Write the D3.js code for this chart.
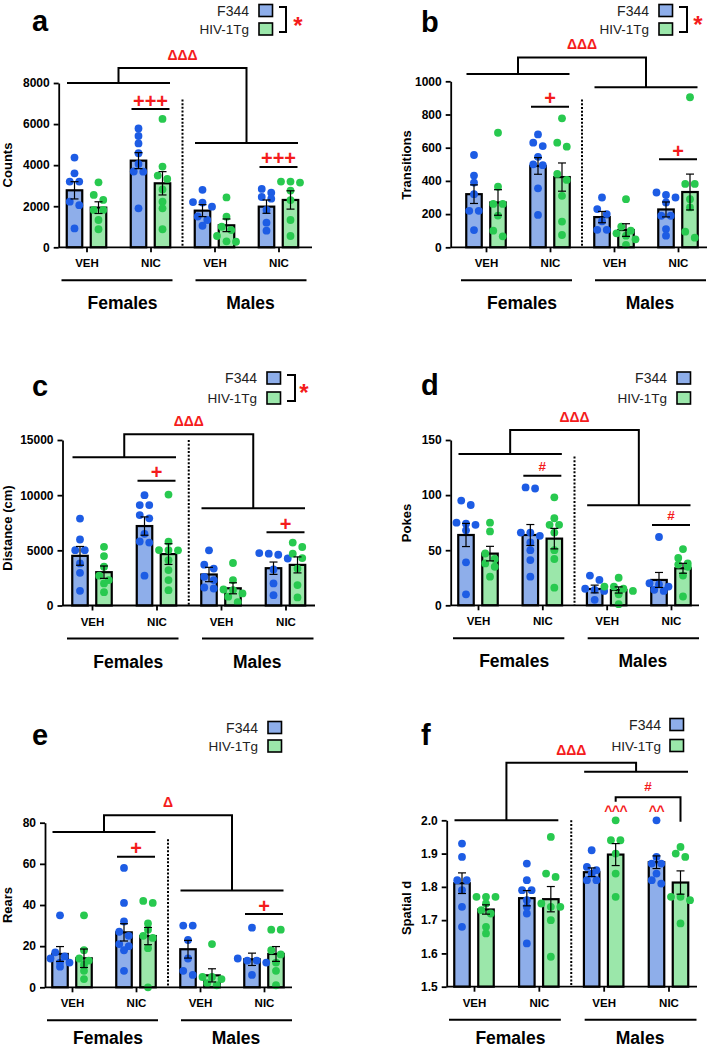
<!DOCTYPE html>
<html><head><meta charset="utf-8">
<script src="https://cdn.jsdelivr.net/npm/d3@7"></script>
<style>body{margin:0;background:#fff}svg{display:block}</style>
</head><body><svg id="chart" width="708" height="1050"></svg>
<script>
// ---------------- DATA ----------------
const groups = ["F-VEH", "F-NIC", "M-VEH", "M-NIC"];
const groupLabels = ["VEH", "NIC", "VEH", "NIC"];
const sexes = ["Females", "Males"];
const strains = ["F344", "HIV-1Tg"];

// (a) Counts
const countsTicks = [0, 2000, 4000, 6000, 8000];
const countsF344Mean = [2775, 4220, 1785, 1980];
const countsF344Sem = [420, 390, 292, 325];
const countsHivMean = [1931, 3116, 1071, 2305];
const countsHivSem = [285, 568, 308, 446];
const countsF344Dots = [
  [4370, 3600, 3200, 3200, 2220, 2050, 920],
  [5790, 5420, 5060, 4580, 4060, 3690, 3680, 1900],
  [2800, 2200, 2180, 1980, 1500, 1330, 1050],
  [2840, 2660, 2450, 2370, 1820, 1200, 810]];
const countsHivDots = [
  [3165, 2550, 2305, 1820, 1820, 1330, 880],
  [6250, 3930, 3490, 3330, 2820, 2220, 1900, 880],
  [2430, 1490, 1000, 840, 550, 290, 270],
  [3200, 3200, 3150, 2760, 2300, 1330, 550]];
const countsSexSig = [8000, 5080, 8730];     // females, males, top
const countsNicSig = [6730, 3910];

// (b) Transitions
const transTicks = [0, 200, 400, 600, 800, 1000];
const transF344Mean = [320, 490, 182, 228];
const transF344Sem = [56, 50, 34, 45];
const transHivMean = [270, 423, 104, 333];
const transHivSem = [77, 85, 38, 108];
const transF344Dots = [
  [556, 432, 390, 320, 220, 220, 104],
  [680, 630, 610, 545, 500, 495, 355, 195],
  [300, 230, 200, 157, 105, 105],
  [330, 315, 300, 270, 190, 190, 110, 70]];
const transHivDots = [
  [690, 365, 261, 261, 191, 100, 66],
  [777, 630, 606, 442, 406, 310, 155, 74],
  [290, 125, 100, 84, 70, 48, 15],
  [904, 382, 382, 290, 240, 94, 58]];
const transSexSig = [1044, 964, 1144];
const transNicSig = [847, 530];

// (c) Distance
const distTicks = [0, 5000, 10000, 15000];
const distF344Mean = [4500, 7200, 2810, 3380];
const distF344Sem = [850, 830, 650, 560];
const distHivMean = [3020, 4660, 1560, 3680];
const distHivSem = [560, 940, 500, 725];
const distF344Dots = [
  [7880, 5980, 5010, 5010, 3810, 2960, 1330],
  [10000, 9100, 9100, 8200, 7900, 6500, 5800, 5700, 2700],
  [5000, 3700, 3350, 2600, 2300, 1630, 1540],
  [4750, 4700, 4600, 4260, 3270, 2000, 940]];
const distHivDots = [
  [5320, 4480, 3510, 2700, 2300, 2000, 1210],
  [10050, 5780, 5020, 5020, 5000, 4110, 3210, 2300, 1390],
  [3850, 2300, 1450, 1400, 1090, 800, 300],
  [5700, 5300, 4700, 4300, 3350, 1850, 730]];
const distSexSig = [13430, 8810, 15520];
const distNicSig = [11310, 6630];

// (d) Pokes
const pokesTicks = [0, 50, 100, 150];
const pokesF344Mean = [63.8, 63.8, 14.8, 23];
const pokesF344Sem = [10.5, 9.5, 3.5, 6.8];
const pokesHivMean = [46.9, 60.5, 13.9, 33.6];
const pokesHivSem = [6.6, 9.3, 2.8, 4.5];
const pokesF344Dots = [
  [95, 91, 75, 74, 73, 68, 39, 10],
  [107, 106, 66, 66, 63, 57, 50, 41, 26],
  [27, 23, 15, 14, 13, 5],
  [62, 20, 19, 17, 14, 13]];
const pokesHivDots = [
  [75, 67, 47, 42, 38, 35, 26],
  [98, 79, 73, 73, 66, 50, 42, 16],
  [25, 17, 17, 15, 13, 10, 1],
  [51, 43, 38, 37, 35, 27, 8]];
const pokesSexSig = [137.3, 90.7, 159];
const pokesNicSig = [117.6, 72.9];

// (e) Rears
const rearsTicks = [0, 20, 40, 60, 80];
const rearsF344Mean = [16.2, 26.7, 18.5, 13.6];
const rearsF344Sem = [3.6, 4.2, 4.3, 3.0];
const rearsHivMean = [14.1, 24.9, 5.8, 16.2];
const rearsHivSem = [4.5, 4.2, 3.2, 3.6];
const rearsF344Dots = [
  [35, 17, 15, 14, 12, 12, 10],
  [58, 41, 32, 27, 25, 21, 20, 18, 8],
  [30, 30, 23, 14, 8, 6],
  [29, 14, 13, 13, 12, 6]];
const rearsHivDots = [
  [35, 18, 14, 13, 11, 8, 4],
  [42, 41, 31, 28, 25, 24, 19, 0],
  [21, 5, 5, 4, 2, 1],
  [28, 28, 18, 16, 12, 8, 1]];
const rearsSexSig = [75.5, 47, 83.6];
const rearsNicSig = [63.5, 35.6];

// (f) Spatial d
const spatialTicks = [1.5, 1.6, 1.7, 1.8, 1.9, 2.0];
const spatialF344Mean = [1.811, 1.766, 1.844, 1.874];
const spatialF344Sem = [0.031, 0.023, 0.013, 0.019];
const spatialHivMean = [1.732, 1.763, 1.897, 1.813];
const spatialHivSem = [0.014, 0.038, 0.033, 0.035];
const spatialF344Dots = [
  [1.93, 1.89, 1.82, 1.82, 1.79, 1.74, 1.68],
  [1.87, 1.82, 1.79, 1.79, 1.76, 1.74, 1.72, 1.63],
  [1.91, 1.86, 1.85, 1.84, 1.82, 1.82],
  [2.0, 1.89, 1.87, 1.87, 1.84, 1.82, 1.81]];
const spatialHivDots = [
  [1.77, 1.77, 1.77, 1.75, 1.73, 1.72, 1.68, 1.66],
  [1.95, 1.84, 1.83, 1.75, 1.74, 1.74, 1.70, 1.59],
  [2.0, 1.94, 1.94, 1.90, 1.84, 1.77],
  [1.92, 1.90, 1.89, 1.77, 1.77, 1.76, 1.69]];
const spatialSexSig = [2.0, 2.146, 2.173];
const spatialHashSig = [2.069, 2.056, 1.996]; // bracket level, left leg end, right leg end
const spatialCaretLevel = 2.012;

// ---------------- STYLE / LAYOUT ----------------
const FONT = '"Liberation Sans", Arial, Helvetica, sans-serif';
const BLUE_FILL = "#8eaeea", BLUE_DOT = "#1d5ce4";
const GREEN_FILL = "#9be7aa", GREEN_DOT = "#28c94f";
const RED = "#f41c1c";

const panels = [
  {letter: "a", yTitle: "Counts", ticks: countsTicks, fmt: d3.format("d"),
   f344: [countsF344Mean, countsF344Sem, countsF344Dots], hiv: [countsHivMean, countsHivSem, countsHivDots],
   sexSig: countsSexSig, nicSig: countsNicSig, topLabel: "ΔΔΔ", nicLabel: "+++", dotTop: 7200,
   L: {lx: 32, ly: 31, axisX: 58.7, axisEnd: 312, g0: 86.5, g3: 278.5, y0: 247.3, yTop: 83, tx: 7, ty: 165, sexDy: 62,
       tr: 249, bx: 259, r1: 10.5, r2: 29, bracket: [279, 286, 7, 32], star: [298, 34]}},
  {letter: "b", yTitle: "Transitions", ticks: transTicks, fmt: d3.format("d"),
   f344: [transF344Mean, transF344Sem, transF344Dots], hiv: [transHivMean, transHivSem, transHivDots],
   sexSig: transSexSig, nicSig: transNicSig, topLabel: "ΔΔΔ", nicLabel: "+", dotTop: 890,
   L: {lx: 421, ly: 32, axisX: 450.7, axisEnd: 707, g0: 486, g3: 678, y0: 247.3, yTop: 81.3, tx: 406, ty: 165, sexDy: 62,
       tr: 649, bx: 659, r1: 10.5, r2: 29, bracket: [679, 687, 7, 32], star: [698, 33]}},
  {letter: "c", yTitle: "Distance (cm)", ticks: distTicks, fmt: d3.format("d"),
   f344: [distF344Mean, distF344Sem, distF344Dots], hiv: [distHivMean, distHivSem, distHivDots],
   sexSig: distSexSig, nicSig: distNicSig, topLabel: "ΔΔΔ", nicLabel: "+", dotTop: 15000,
   L: {lx: 32, ly: 396, axisX: 62.5, axisEnd: 315, g0: 92, g3: 285.5, y0: 605.5, yTop: 440, tx: 7, ty: 528, sexDy: 62,
       tr: 257, bx: 267, r1: 378, r2: 398, bracket: [287, 295, 375, 401], star: [304, 401]}},
  {letter: "d", yTitle: "Pokes", ticks: pokesTicks, fmt: d3.format("d"),
   f344: [pokesF344Mean, pokesF344Sem, pokesF344Dots], hiv: [pokesHivMean, pokesHivSem, pokesHivDots],
   sexSig: pokesSexSig, nicSig: pokesNicSig, topLabel: "ΔΔΔ", nicLabel: "#", dotTop: 135,
   L: {lx: 421, ly: 395, axisX: 450.7, axisEnd: 699, g0: 478, g3: 671, y0: 605.3, yTop: 440, tx: 406, ty: 523, sexDy: 62,
       tr: 667, bx: 677, r1: 378, r2: 398}},
  {letter: "e", yTitle: "Rears", ticks: rearsTicks, fmt: d3.format("d"),
   f344: [rearsF344Mean, rearsF344Sem, rearsF344Dots], hiv: [rearsHivMean, rearsHivSem, rearsHivDots],
   sexSig: rearsSexSig, nicSig: rearsNicSig, topLabel: "Δ", nicLabel: "+", dotTop: 72,
   L: {lx: 32, ly: 745, axisX: 45, axisEnd: 292, g0: 72, g3: 264, y0: 987.3, yTop: 822.7, tx: 7, ty: 905, sexDy: 57,
       tr: 258, bx: 268, r1: 727.5, r2: 746}},
  {letter: "f", yTitle: "Spatial d", ticks: spatialTicks, fmt: d3.format(".1f"),
   f344: [spatialF344Mean, spatialF344Sem, spatialF344Dots], hiv: [spatialHivMean, spatialHivSem, spatialHivDots],
   sexSig: spatialSexSig, nicSig: null, topLabel: "ΔΔΔ", dotTop: 2.0, hash: spatialHashSig, caret: spatialCaretLevel,
   L: {lx: 421, ly: 745, axisX: 446.7, axisEnd: 697, g0: 474, g3: 668.5, y0: 986.7, yTop: 820.3, tx: 406, ty: 908, sexDy: 57.5,
       tr: 661, bx: 670, r1: 724.5, r2: 745.5}}
];

const svg = d3.select("#chart");

function swarm(vals, y, cx) {
  const pts = vals.map(v => ({v, y: y(v)})).sort((a, b) => a.y - b.y);
  const rows = [];
  pts.forEach(p => {
    const last = rows[rows.length - 1];
    if (last && p.y - last[0].y < 6) last.push(p); else rows.push([p]);
  });
  rows.forEach(r => r.forEach((p, i) => { p.x = cx + (i - (r.length - 1) / 2) * 9.5; }));
  return pts;
}

function drawPanel(P) {
  const L = P.L;
  const g = svg.append("g");
  const y = d3.scaleLinear().domain([P.ticks[0], P.ticks[P.ticks.length - 1]]).range([L.y0, L.yTop]);
  const x = d3.scalePoint().domain(groups).range([L.g0, L.g3]);
  const off = 12, bw = 15.5;
  const series = [
    {d: P.f344, dx: -off, fill: BLUE_FILL, dot: BLUE_DOT},
    {d: P.hiv, dx: off, fill: GREEN_FILL, dot: GREEN_DOT}];

  // bars
  series.forEach(s => {
    g.append("g").selectAll("rect").data(groups).join("rect")
      .attr("x", (k) => x(k) + s.dx - bw / 2)
      .attr("y", (k, i) => y(s.d[0][i]))
      .attr("width", bw)
      .attr("height", (k, i) => L.y0 - y(s.d[0][i]))
      .attr("fill", s.fill).attr("stroke", "#000").attr("stroke-width", 2.2);
  });
  // dots
  series.forEach(s => {
    groups.forEach((k, i) => {
      const pts = swarm(s.d[2][i], y, x(k) + s.dx);
      g.append("g").selectAll("circle").data(pts).join("circle")
        .attr("cx", p => p.x).attr("cy", p => p.y).attr("r", 3.9).attr("fill", s.dot);
    });
  });
  // error bars
  series.forEach(s => {
    groups.forEach((k, i) => {
      const cx = x(k) + s.dx, m = s.d[0][i], e = s.d[1][i];
      const eg = g.append("g").attr("stroke", "#000").attr("stroke-width", 1.2);
      eg.append("line").attr("x1", cx).attr("x2", cx).attr("y1", y(m - e)).attr("y2", y(m + e));
      eg.append("line").attr("x1", cx - 4).attr("x2", cx + 4).attr("y1", y(m - e)).attr("y2", y(m - e));
      eg.append("line").attr("x1", cx - 4).attr("x2", cx + 4).attr("y1", y(m + e)).attr("y2", y(m + e));
    });
  });

  // y axis
  g.append("g").attr("transform", `translate(${L.axisX},0)`)
    .call(d3.axisLeft(y).tickValues(P.ticks).tickFormat(P.fmt).tickSize(5).tickSizeOuter(0).tickPadding(4))
    .call(a => {
      a.select(".domain").attr("stroke-width", 1.8);
      a.selectAll(".tick line").attr("stroke-width", 1.8);
      a.selectAll(".tick text").attr("font-family", FONT).attr("font-weight", "bold").attr("font-size", 12).attr("fill", "#000");
    });
  // x axis
  g.append("line").attr("x1", L.axisX).attr("x2", L.axisEnd).attr("y1", L.y0).attr("y2", L.y0)
    .attr("stroke", "#000").attr("stroke-width", 1.8);
  g.append("g").attr("transform", `translate(0,${L.y0})`)
    .call(d3.axisBottom(x).tickFormat((d, i) => groupLabels[i]).tickSize(5).tickSizeOuter(0).tickPadding(7))
    .call(a => {
      a.select(".domain").remove();
      a.selectAll(".tick line").attr("stroke-width", 1.8);
      a.selectAll(".tick text").attr("font-family", FONT).attr("font-weight", "bold").attr("font-size", 11.5).attr("fill", "#000");
    });

  // sex underlines & labels
  const lineY = L.y0 + 33;
  const sexSpans = [[x(groups[0]) - 25, x(groups[1]) + 22], [x(groups[2]) - 19, x(groups[3]) + 28]];
  sexSpans.forEach((sp, i) => {
    g.append("line").attr("x1", sp[0]).attr("x2", sp[1]).attr("y1", lineY).attr("y2", lineY)
      .attr("stroke", "#000").attr("stroke-width", 2);
    const mid = (x(groups[2 * i]) + x(groups[2 * i + 1])) / 2 + 4;
    g.append("text").attr("x", mid).attr("y", L.y0 + L.sexDy).attr("text-anchor", "middle")
      .attr("font-family", FONT).attr("font-weight", "bold").attr("font-size", 17.5).text(sexes[i]);
  });

  // dotted separator
  const sepX = (x(groups[1]) + x(groups[2])) / 2;
  g.append("line").attr("x1", sepX).attr("x2", sepX).attr("y1", y(P.dotTop)).attr("y2", L.y0)
    .attr("stroke", "#000").attr("stroke-width", 2).attr("stroke-dasharray", "2,1.7");

  // y title
  g.append("text").attr("transform", `translate(${L.tx},${L.ty}) rotate(-90)`).attr("dy", "0.35em")
    .attr("text-anchor", "middle").attr("font-family", FONT).attr("font-weight", "bold").attr("font-size", 13)
    .text(P.yTitle);

  // panel letter
  g.append("text").attr("x", L.lx).attr("y", L.ly).attr("font-family", FONT).attr("font-weight", "bold")
    .attr("font-size", 29).text(P.letter);

  // legend
  [[L.r1, BLUE_FILL, strains[0], 14], [L.r2, GREEN_FILL, strains[1], 13.5]].forEach(r => {
    g.append("text").attr("x", L.tr).attr("y", r[0] + 5).attr("text-anchor", "end")
      .attr("font-family", FONT).attr("font-size", r[3]).attr("fill", "#222").text(r[2]);
    g.append("rect").attr("x", L.bx).attr("y", r[0] - 6).attr("width", 13.5).attr("height", 12)
      .attr("fill", r[1]).attr("stroke", "#000").attr("stroke-width", 1.6);
  });
  if (L.bracket) {
    const b = L.bracket;
    g.append("path").attr("d", `M${b[0]},${b[2]}H${b[1]}V${b[3]}H${b[0]}`).attr("fill", "none")
      .attr("stroke", "#000").attr("stroke-width", 2);
    g.append("text").attr("x", L.star[0]).attr("y", L.star[1]).attr("text-anchor", "middle")
      .attr("font-family", FONT).attr("font-weight", "bold").attr("font-size", 24).attr("fill", RED).text("*");
  }

  // significance brackets (sex x drug)
  const fx1 = x(groups[0]) - 19.5, fx2 = x(groups[1]) + 19.5;
  const mx1 = x(groups[2]) - 19.5, mx2 = x(groups[3]) + 19.5;
  const fm = (fx1 + fx2) / 2, mm = (mx1 + mx2) / 2;
  const yF = y(P.sexSig[0]), yM = y(P.sexSig[1]), yT = y(P.sexSig[2]);
  g.append("path")
    .attr("d", `M${fx1},${yF}H${fx2}M${mx1},${yM}H${mx2}M${fm},${yF}V${yT}H${mm}V${yM}`)
    .attr("fill", "none").attr("stroke", "#000").attr("stroke-width", 2);
  g.append("text").attr("x", (fm + mm) / 2).attr("y", yT - 8).attr("text-anchor", "middle")
    .attr("font-family", FONT).attr("font-weight", "bold").attr("font-size", 14).attr("fill", RED).text(P.topLabel);

  if (P.nicSig) {
    [groups[1], groups[3]].forEach((k, i) => {
      const yy = y(P.nicSig[i]);
      g.append("line").attr("x1", x(k) - 19).attr("x2", x(k) + 19).attr("y1", yy).attr("y2", yy)
        .attr("stroke", "#000").attr("stroke-width", 2);
      const isPlus = P.nicLabel[0] === "+";
      g.append("text").attr("x", x(k)).attr("y", yy - (isPlus ? 1.5 : 5)).attr("text-anchor", "middle")
        .attr("font-family", FONT).attr("font-weight", "bold").attr("font-size", isPlus ? 20 : 13.5)
        .attr("fill", RED).text(P.nicLabel);
    });
  }

  if (P.hash) {
    const xa = x(groups[2]) + off, xb = x(groups[3]) + off;
    const yb = y(P.hash[0]);
    g.append("path").attr("d", `M${xa},${y(P.hash[1])}V${yb}H${xb}V${y(P.hash[2])}`)
      .attr("fill", "none").attr("stroke", "#000").attr("stroke-width", 2);
    g.append("text").attr("x", (xa + xb) / 2).attr("y", yb - 6).attr("text-anchor", "middle")
      .attr("font-family", FONT).attr("font-weight", "bold").attr("font-size", 13.5).attr("fill", RED).text("#");
    [[x(groups[2]) + off, "^^^"], [x(groups[3]) - off, "^^"]].forEach(c => {
      g.append("text").attr("x", c[0]).attr("y", y(P.caret)).attr("text-anchor", "middle")
        .attr("font-family", FONT).attr("font-weight", "bold").attr("font-size", 14).attr("letter-spacing", -0.5)
        .attr("fill", RED).text(c[1]);
    });
  }
}

panels.forEach(drawPanel);
</script></body></html>
